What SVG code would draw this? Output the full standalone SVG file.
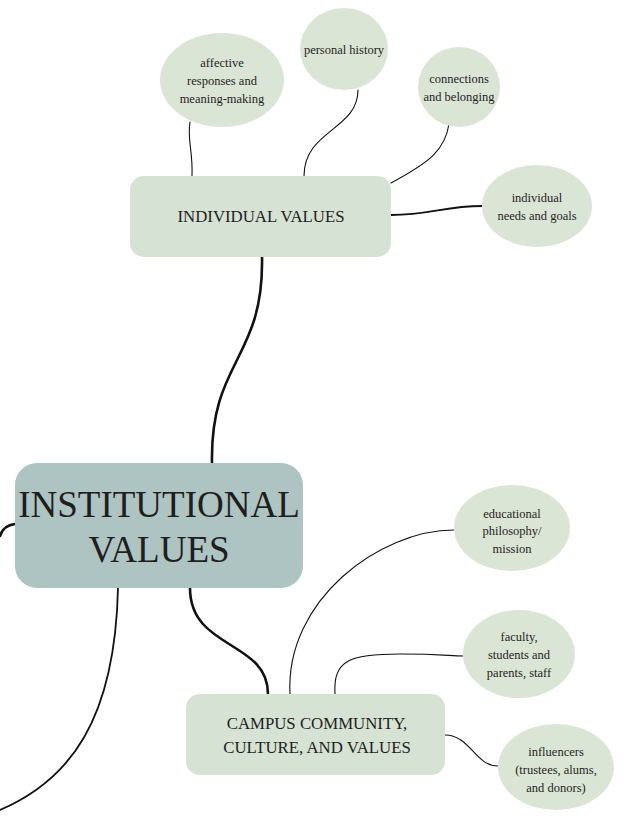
<svg xmlns="http://www.w3.org/2000/svg" width="627" height="818" viewBox="0 0 627 818">
<style>
text{font-family:"Liberation Serif","Times New Roman",serif;fill:#1e1e1e;text-anchor:middle}
.leaf{fill:#dbe5d5}
.box{fill:#d6e2d3}
.sm{font-size:12.5px}
.md{font-size:16.8px}
.big{font-size:37px}
.c{fill:none;stroke:#111;stroke-linecap:round}
.thick{stroke-width:2.6}
.mid{stroke-width:1.8}
.thin{stroke-width:1.1}
</style>
<rect width="627" height="818" fill="#fff"/>
<g id="connectors">
<path class="c thick" d="M15,524 C6,525 2,530 0,536"/>
<path class="c thick" d="M212,463 C210,360 264,360 262,257"/>
<path class="c thick" d="M190,588 C190,650 268,640 268,694"/>
<path class="c mid" d="M118,588 C115,720 70,780 0,810"/>
<path class="c thin" d="M192,176 C193,150 187,140 190,122"/>
<path class="c thin" d="M304,176 C304,130 358,130 358,90"/>
<path class="c thin" d="M391,183 C430,162 445,150 449,124"/>
<path class="c mid" d="M391,215 C430,215 445,206 482,206"/>
<path class="c thin" d="M290,694 C285,600 380,530 454,530"/>
<path class="c thin" d="M335,694 C333,660 350,654 400,654 C440,654 450,656 463,656"/>
<path class="c thin" d="M445,735 C470,735 475,766 498,766"/>
</g>
<g id="institutional">
<rect x="15" y="463" width="288" height="125" rx="22" fill="#aec4c2"/>
<text class="big" x="159" y="517">INSTITUTIONAL</text>
<text class="big" x="159" y="562">VALUES</text>
</g>
<g id="individual">
<rect class="box" x="130" y="176" width="261" height="81" rx="14"/>
<text class="md" x="261" y="222">INDIVIDUAL VALUES</text>
</g>
<g id="campus">
<rect class="box" x="186" y="694" width="259" height="81" rx="14"/>
<text class="md" x="317" y="729">CAMPUS COMMUNITY,</text>
<text class="md" x="317" y="753">CULTURE, AND VALUES</text>
</g>
<g id="affective">
<ellipse class="leaf" cx="222" cy="80" rx="62" ry="47"/>
<text class="sm" x="222" y="67">affective</text>
<text class="sm" x="222" y="85">responses and</text>
<text class="sm" x="222" y="103">meaning-making</text>
</g>
<g id="personal-history">
<ellipse class="leaf" cx="344" cy="49" rx="44" ry="41"/>
<text class="sm" x="344" y="54">personal history</text>
</g>
<g id="connections">
<ellipse class="leaf" cx="459" cy="87" rx="41" ry="40"/>
<text class="sm" x="459" y="83">connections</text>
<text class="sm" x="459" y="101">and belonging</text>
</g>
<g id="needs">
<ellipse class="leaf" cx="537" cy="206" rx="55" ry="41"/>
<text class="sm" x="537" y="202">individual</text>
<text class="sm" x="537" y="220">needs and goals</text>
</g>
<g id="educational">
<ellipse class="leaf" cx="512" cy="528" rx="58" ry="43"/>
<text class="sm" x="512" y="518">educational</text>
<text class="sm" x="512" y="535">philosophy/</text>
<text class="sm" x="512" y="553">mission</text>
</g>
<g id="faculty">
<ellipse class="leaf" cx="519" cy="654" rx="56" ry="44"/>
<text class="sm" x="519" y="641">faculty,</text>
<text class="sm" x="519" y="659">students and</text>
<text class="sm" x="519" y="677">parents, staff</text>
</g>
<g id="influencers">
<ellipse class="leaf" cx="556" cy="767" rx="58" ry="43"/>
<text class="sm" x="556" y="756">influencers</text>
<text class="sm" x="556" y="774">(trustees, alums,</text>
<text class="sm" x="556" y="792">and donors)</text>
</g>
</svg>
